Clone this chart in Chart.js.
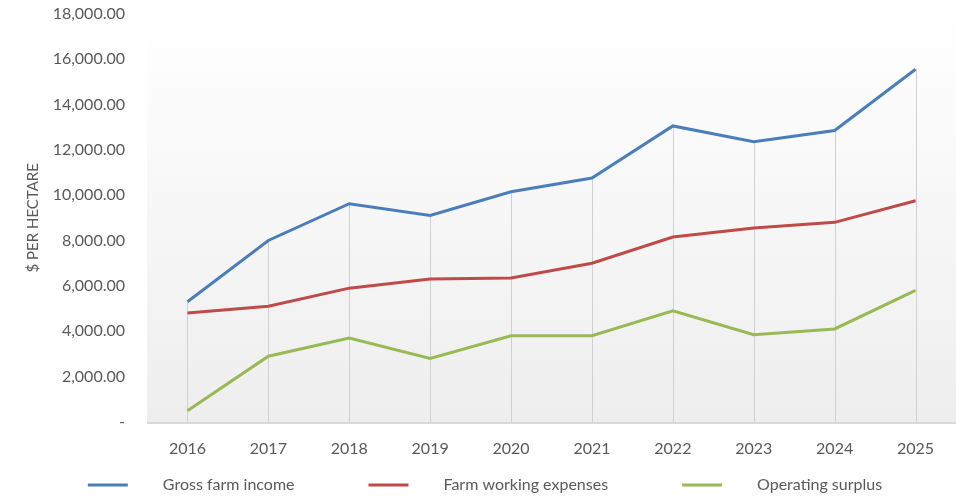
<!DOCTYPE html>
<html>
<head>
<meta charset="utf-8">
<script src="https://cdn.jsdelivr.net/npm/chart.js@4.4.1/dist/chart.umd.min.js"></script>
<style>
  html, body { margin: 0; padding: 0; background: #fff; overflow: hidden; }
  #wrap { width: 956px; height: 496px; position: relative; overflow: hidden; }
  #myChart { position: absolute; left: 0; top: -10px; }
</style>
</head>
<body>
<div id="wrap"><canvas id="myChart" width="956" height="506"></canvas></div>
<script>
"use strict";

const years = ["2016", "2017", "2018", "2019", "2020", "2021", "2022", "2023", "2024", "2025"];
const grossIncome = [5300, 8000, 9620, 9100, 10150, 10750, 13050, 12350, 12850, 15550];
const workingExpenses = [4800, 5100, 5900, 6300, 6350, 7000, 8150, 8550, 8800, 9750];
const operatingSurplus = [500, 2900, 3700, 2800, 3800, 3800, 4900, 3850, 4100, 5800];
const yTicks = [0, 2000, 4000, 6000, 8000, 10000, 12000, 14000, 16000, 18000];

const FONT = "Lato, 'Open Sans', sans-serif";
const TXT = "#595959";

// gradient plot area + drop lines from the highest point of each year
const plotBg = {
    id: "plotBg",
    beforeDatasetsDraw(chart) {
        let a = chart.chartArea, ctx = chart.ctx;
        let x = chart.scales.x, y = chart.scales.y;
        ctx.save();
        let g = ctx.createLinearGradient(0, a.top, 0, a.bottom);
        g.addColorStop(0, "#ffffff");
        g.addColorStop(1, "#eeeeee");
        ctx.fillStyle = g;
        ctx.fillRect(a.left, a.top, a.right - a.left, a.bottom - a.top);

        ctx.strokeStyle = "#d0d0d0";
        ctx.lineWidth = 1;
        for (let i = 0; i < years.length; i++) {
            let top = Math.max(grossIncome[i], workingExpenses[i], operatingSurplus[i]);
            let px = Math.round(x.getPixelForValue(i)) + 0.5;
            ctx.beginPath();
            ctx.moveTo(px, y.getPixelForValue(top));
            ctx.lineTo(px, a.bottom);
            ctx.stroke();
        }
        ctx.strokeStyle = "#d9d9d9";
        ctx.lineWidth = 2;
        ctx.beginPath();
        ctx.moveTo(a.left, a.bottom + 1);
        ctx.lineTo(a.right, a.bottom + 1);
        ctx.stroke();
        ctx.restore();
    }
};

// legend with wide gaps, like the original
const wideLegend = {
    id: "wideLegend",
    afterDraw(chart) {
        let ctx = chart.ctx;
        let sets = chart.data.datasets;
        ctx.save();
        ctx.font = "16px " + FONT;
        let lineW = 40, gap = 35, between = 74;
        let widths = sets.map(d => ctx.measureText(d.label).width);
        let total = widths.reduce((s, w) => s + w + lineW + gap, 0) + between * (sets.length - 1);
        let xx = (chart.width - total) / 2 + 7;
        let yy = chart.height - 11;
        sets.forEach((d, i) => {
            ctx.strokeStyle = d.borderColor;
            ctx.lineWidth = 3;
            ctx.beginPath();
            ctx.moveTo(xx, yy);
            ctx.lineTo(xx + lineW, yy);
            ctx.stroke();
            ctx.fillStyle = TXT;
            ctx.textBaseline = "middle";
            ctx.fillText(d.label, xx + lineW + gap, yy);
            xx += lineW + gap + widths[i] + between;
        });
        ctx.restore();
    }
};

function makeSet(label, data, color) {
    return {
        label: label,
        data: data,
        borderColor: color,
        backgroundColor: color,
        borderWidth: 3,
        pointRadius: 0,
        tension: 0,
        fill: false
    };
}

new Chart(document.getElementById("myChart"), {
    type: "line",
    data: {
        labels: years,
        datasets: [
            makeSet("Gross farm income", grossIncome, "#4a7ebb"),
            makeSet("Farm working expenses", workingExpenses, "#be4b48"),
            makeSet("Operating surplus", operatingSurplus, "#98b954")
        ]
    },
    options: {
        responsive: false,
        animation: false,
        layout: { padding: { top: 0, right: 0, left: 0, bottom: 0 } },
        plugins: {
            legend: { display: false },
            tooltip: { enabled: false }
        },
        scales: {
            x: {
                offset: true,
                grid: { display: false },
                border: { display: false },
                ticks: { color: TXT, font: { family: FONT, size: 16 }, padding: 9, maxRotation: 0 },
                afterFit: s => { s.height = 74; }
            },
            y: {
                min: 0,
                max: 18000,
                afterBuildTicks: s => { s.ticks = yTicks.map(v => ({ value: v })); },
                grid: { display: false },
                border: { display: false },
                ticks: {
                    color: TXT,
                    font: { family: FONT, size: 16 },
                    padding: 14,
                    callback: v => v === 0 ? "-" : v.toLocaleString("en-US", { minimumFractionDigits: 2, maximumFractionDigits: 2 })
                },
                title: {
                    display: true,
                    text: "$ PER HECTARE",
                    color: TXT,
                    font: { family: FONT, size: 15 },
                    padding: { top: 24, bottom: 6 }
                },
                afterFit: s => { s.width = 147; }
            }
        }
    },
    plugins: [plotBg, wideLegend]
});
</script>
</body>
</html>
